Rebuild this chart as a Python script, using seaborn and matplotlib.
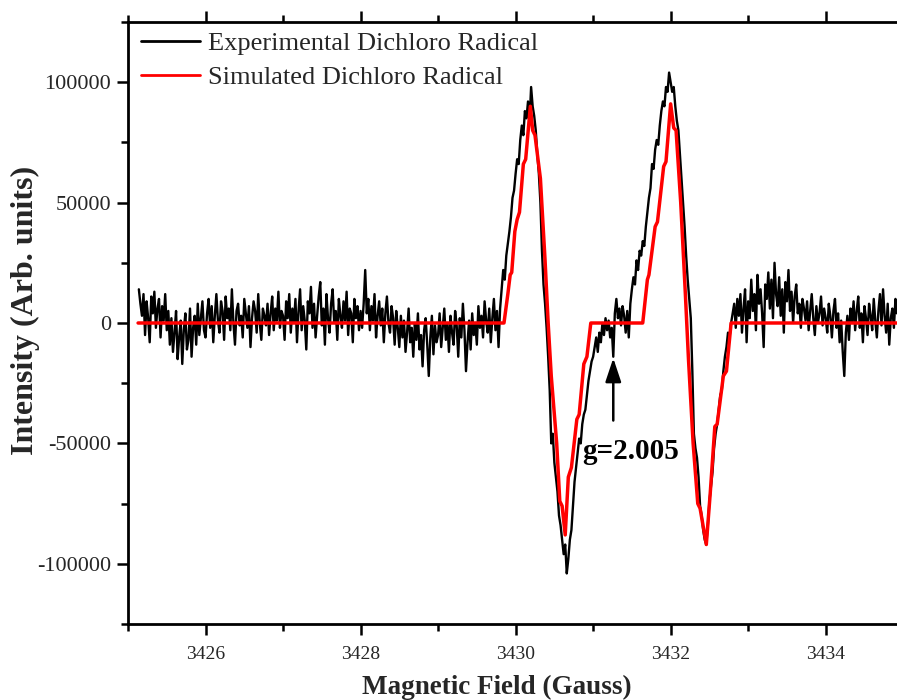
import numpy as np
import pandas as pd
import matplotlib
matplotlib.use("Agg")
import matplotlib.pyplot as plt
import seaborn as sns
from matplotlib.ticker import MultipleLocator

# ---------------- data ----------------
# experimental spectrum: sampled every 0.02 G starting at 3425.14 G (values in units of 1000)
field_start = 3425.14
field_step = 0.02

exp_base_a = [14, 8, 3, 12, -5, 9, 2, -8, 11, 4, 13, -2, 6, 10, -6, 7, 1, 12, -3, 5]
exp_base_b = [-9, 2, -12, -4, 5, -15, -6, 1, -17, -3, 4, -11, -7, 6, -14, -2, 3, -9, 8, -5,
              2, 9, -3]
exp_base_c = [-6, 4, 10, -2, 7, -8, 3, 12, 1, -4, 9, 5, -7, 11, 2, 6, -3, 14, 0, -9,
              5, 8, -1, 3, -6, 10, 4, -2, 7, -10, 2, 9, 5, -4, 12, 0, -7, 6, 3, -1,
              8, -5, 4, 11, -3, 6, 1, 13, -2, 5]
exp_base_d = [3, -7, 9, 2, 12, -4, 6, 0, 10, -8, 5, 14, -3, 7, 1, -11, 9, 4, 15, -2,
              8, -6, 3, 11, 17, -1, 6, -9, 12, 2, -4, 8, 14, 0, 5, -7, 10, 3, -2, 9,
              1, 13, -5, 6, 4, -8, 10, 2, 7, -3]
exp_base_e = [5, -2, 8, 22, 4, 10, -3, 7, 1, 12, -6, 3, 9, -1, 6, -8, 4, 11, 0, -4,
              7, 2, -9, 5, -2, -10, 3, -6, 1, -12, -4, 6, -8, -2, -14, 0, -7, 4, -11, -5,
              -18, -3, 2, -9, -22, -6, 3, -13, -1, -8]
exp_base_f = [-5, 4, -10, -2, 6, -7, 0, -12, 3, -4, -9, 5, -1, -14, 2, -6, 8, -3, -20, -8,
              1, -11, 4, -5, 0, -9, 7, -2, 3, -6, 9, 1, -4, 6, -8, 2, 10, -3, 5, -10]
exp_signal = [6, 14, 22, 18, 28, 33, 38, 44, 52, 55,
              62, 68, 66, 76, 82, 78, 88, 85, 92, 84,
              98, 90, 86, 80, 70, 62, 50, 30, 16, 8,
              -2, -14, -28, -50, -46, -58, -64, -70, -80, -84,
              -90, -96, -92, -104, -98, -90, -86, -76, -66, -60,
              -54, -48, -50, -42, -38, -36, -30, -24, -20, -16,
              -14, -10, -6, -12, -4, -8, 0, -5, 2, -3,
              1, -6, -2, -14, 4, 10, 2, 6, -1, 7,
              3, -4, 5, -6, 8, 14, 19, 16, 26, 22,
              30, 28, 34, 32, 40, 46, 52, 56, 66, 64,
              72, 76, 74, 82, 88, 92, 90, 98, 96, 104,
              100, 96, 98, 90, 84, 80, 70, 60, 50, 40,
              28, 18, 10, 2, -20, -46, -52, -56, -64, -76,
              -80, -86, -90, -92, -84, -74, -68, -62, -52, -46,
              -42, -36, -30, -28, -20, -14, -10, -4, -6, 0,
              4]
exp_tail = [8, -2, 10, 3, 12, -4, 6, 14, -8,
            9, 2, 18, 5, 12, -3, 20, 8, 14, 4,
            -10, 16, 10, 21, 6, 18, 2, 25, 12, 7,
            19, 3, 14, -4, 17, 9, 22, 5, 13, 0,
            11, 16, 4, 8, -2, 10, 6, 1, 9, -3,
            5, 12, 2, -5, 7, 0, 4, 11, -1, 6,
            2, -4, 8, 3, -6, 5, 10, -2, 4, -8,
            1, -12, -22, -4, 3, -7, 6, 0, 9, -3,
            5, 11, -2, 4, -8, 7, 2, -5, 8, 3,
            -3, 10, 1, -6, 5, 12, -1, 14, 3, -4,
            8, -9, 2, 6, -2, 10, 4, 11]

# simulated spectrum vertices (field in G, intensity in units of 1000)
sim_field = [3425.13, 3429.85, 3429.90, 3429.93, 3429.95, 3429.99, 3430.02, 3430.05, 3430.10,
             3430.13, 3430.19, 3430.22, 3430.25, 3430.32, 3430.38, 3430.42, 3430.46, 3430.53,
             3430.57, 3430.60, 3430.64, 3430.68, 3430.72, 3430.79, 3430.82, 3430.88, 3430.92,
             3430.97, 3431.64, 3431.70, 3431.72, 3431.80, 3431.83, 3431.91, 3431.94, 3432.00,
             3432.04, 3432.07, 3432.13, 3432.19, 3432.23, 3432.29, 3432.35, 3432.38, 3432.46,
             3432.51, 3432.57, 3432.60, 3432.68, 3432.72, 3432.78, 3435.00]
sim_value = [0, 0, 12, 20, 21, 38, 43, 46, 66,
             68, 90, 80, 78, 60, 26, 0, -22, -50,
             -74, -76, -88, -64, -60, -40, -38, -17, -14,
             0, 0, 18, 20, 40, 42, 65, 67, 91,
             81, 80, 50, 12, -15, -50, -75, -77, -92,
             -71, -43, -42, -22, -20, 0, 0]

x_ticks = [3426, 3428, 3430, 3432, 3434]
y_ticks = [-100000, -50000, 0, 50000, 100000]

series_names = ["Experimental Dichloro Radical", "Simulated Dichloro Radical"]

# ---------------- build frames ----------------
exp_values = (exp_base_a + exp_base_b + exp_base_c + exp_base_d + exp_base_e +
              exp_base_f + exp_signal + exp_tail)
exp_field = field_start + field_step * np.arange(len(exp_values))
df_exp = pd.DataFrame({"field": exp_field, "intensity": np.array(exp_values) * 1000.0})
df_sim = pd.DataFrame({"field": sim_field, "intensity": np.array(sim_value) * 1000.0})

# ---------------- style ----------------
sns.set_theme(style="ticks")
plt.rcParams["font.family"] = ["Liberation Serif", "DejaVu Serif"]
plt.rcParams["axes.linewidth"] = 2.0

fig = plt.figure(figsize=(8.97, 7.0), dpi=100)
ax = fig.add_axes([128 / 897, 76 / 700, (897 - 128) / 897, 602 / 700])

sns.lineplot(data=df_exp, x="field", y="intensity", ax=ax, color="black", lw=1.7,
             estimator=None, sort=False, label=series_names[0])
sns.lineplot(data=df_sim, x="field", y="intensity", ax=ax, color="#ff0000", lw=2.5,
             estimator=None, sort=False, label=series_names[1])

ax.set_xlim(3425.0, 3434.92)
ax.set_ylim(-125000, 125000)
ax.set_xticks(x_ticks)
ax.set_xticklabels([str(t) for t in x_ticks])
ax.set_yticks(y_ticks)
ax.set_yticklabels([str(t) for t in y_ticks])
ax.xaxis.set_minor_locator(MultipleLocator(1))
ax.yaxis.set_minor_locator(MultipleLocator(25000))

ax.spines["right"].set_visible(False)
for s in ["left", "bottom", "top"]:
    ax.spines[s].set_linewidth(2.0)
    ax.spines[s].set_color("black")

ax.tick_params(axis="both", which="major", direction="out", length=8, width=1.8,
               color="black")
ax.tick_params(axis="both", which="minor", direction="out", length=5, width=1.8,
               color="black")
ax.tick_params(axis="x", which="both", top=True, labeltop=False)
ax.tick_params(axis="x", which="major", labelsize=14, pad=8)
ax.tick_params(axis="y", which="major", labelsize=16, pad=4)

ax.set_xlabel("Magnetic Field (Gauss)", fontsize=19.5, fontweight="bold")
ax.set_ylabel("Intensity (Arb. units)", fontsize=23, fontweight="bold")
ax.xaxis.set_label_coords((497 - 128) / 769, -(675 - 624) / 602)
ax.yaxis.set_label_coords(-(128 - 40) / 769, (624 - 310) / 602)

leg = ax.legend(loc="upper left", bbox_to_anchor=((141 - 128) / 769, (624 - 32) / 602),
                frameon=False, fontsize=19, handlelength=2.25, handletextpad=0.27,
                labelspacing=0.38, borderpad=0, borderaxespad=0)
for h in leg.get_lines():
    h.set_linewidth(2.0)

# g-value marker
ax.annotate("", xy=(3431.26, -14600), xytext=(3431.26, -40500),
            arrowprops=dict(arrowstyle="-|>,head_length=0.9,head_width=0.3",
                            color="black", lw=1.8, mutation_scale=16,
                            shrinkA=0, shrinkB=0))
ax.text(3431.48, -53500, "g=2.005", ha="center", va="center", fontsize=21,
        fontweight="bold", color="black")

fig.savefig("out.png", dpi=100, facecolor="white")
